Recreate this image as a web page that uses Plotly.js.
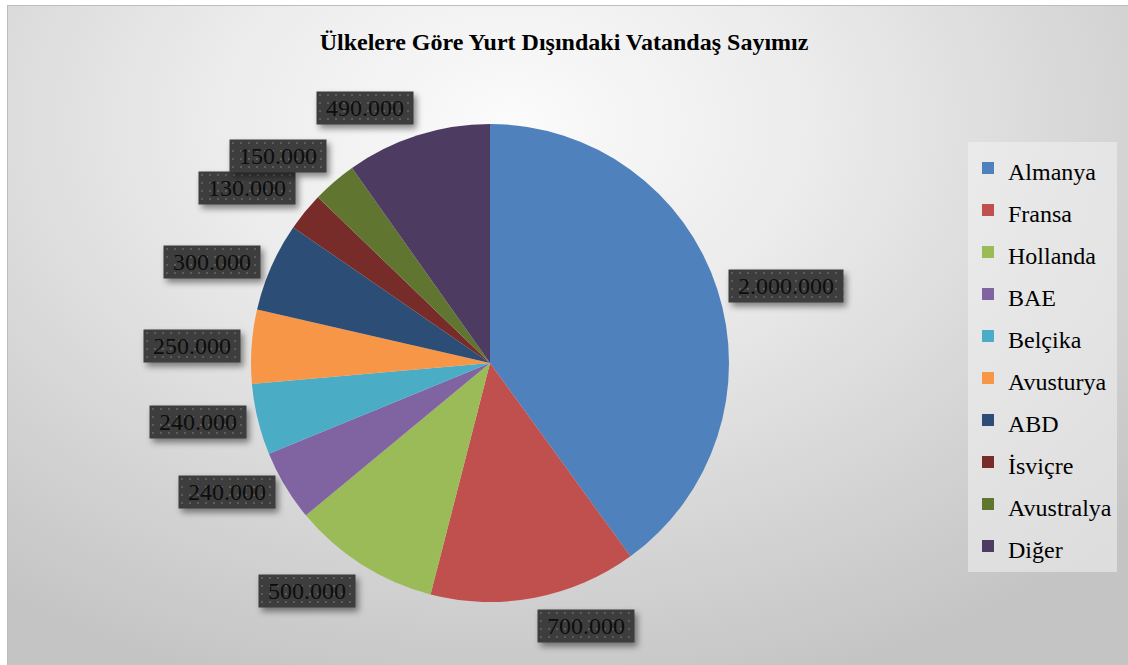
<!DOCTYPE html>
<html>
<head>
<meta charset="utf-8">
<script src="https://cdn.plot.ly/plotly-3.0.1.min.js"></script>
<style>
  html, body { margin: 0; padding: 0; width: 1128px; height: 665px; overflow: hidden; background: #ffffff; }
  #bgpanel {
    position: absolute; left: 7px; top: 5px; width: 1121px; height: 660px;
    background: radial-gradient(ellipse 75% 90% at 45% 18%, #fbfbfb 0%, #ececec 35%, #d6d6d6 70%, #c4c4c4 100%);
    border-top: 1px solid #bdbdbd; border-left: 1px solid #bdbdbd; box-sizing: border-box;
  }
  #chart { position: absolute; left: 0; top: 0; width: 1128px; height: 665px; }
  #chart text, #chart tspan { font-family: 'Liberation Serif', 'Times New Roman', serif !important; }
  .annotation rect.bg { fill: url(#dotpat) !important; filter: drop-shadow(3px 4px 3px rgba(0,0,0,0.45)); }
</style>
</head>
<body>
<div id="bgpanel"></div>
<div id="chart"></div>
<script>
// ---- data ----
const countries = ['Almanya', 'Fransa', 'Hollanda', 'BAE', 'Belçika', 'Avusturya', 'ABD', 'İsviçre', 'Avustralya', 'Diğer'];
const citizens = [2000000, 700000, 500000, 240000, 240000, 250000, 300000, 130000, 150000, 490000];
const sliceColors = ['#4F81BD', '#C0504D', '#9BBB59', '#8064A2', '#4BACC6', '#F79646', '#2C4D75', '#772C2A', '#5F7530', '#4D3B62'];
const chartTitle = 'Ülkelere Göre Yurt Dışındaki Vatandaş Sayımız';

// ---- layout geometry ----
const W = 1128, H = 665;
const PIE_CX = 490, PIE_CY = 363, PIE_R = 239;
const pieDomain = {
  x: [(PIE_CX - PIE_R) / W, (PIE_CX + PIE_R) / W],
  y: [(H - PIE_CY - PIE_R) / H, (H - PIE_CY + PIE_R) / H]
};

function fmt(v) { return String(v).replace(/\B(?=(\d{3})+(?!\d))/g, '.'); }

const serif = 'Liberation Serif';
const LABEL_FS = 24;

// data label annotations positioned from the slice angles
const total = citizens.reduce((a, b) => a + b, 0);
const annotations = [];
let cum = 0;
citizens.forEach((v, i) => {
  const mid = (cum + v / 2) / total * 2 * Math.PI;
  cum += v;
  const s = Math.sin(mid), c = Math.cos(mid);
  const rr = PIE_R + 11;
  const px = PIE_CX + rr * s, py = PIE_CY - rr * c;
  const txt = fmt(v);
  const nDig = txt.replace(/\./g, '').length, nDot = txt.length - nDig;
  annotations.push({
    xref: 'paper', yref: 'paper',
    x: px / W, y: 1 - py / H,
    xanchor: s > 0.1 ? 'left' : (s < -0.1 ? 'right' : 'center'),
    yanchor: c > 0.55 ? 'bottom' : (c < -0.55 ? 'top' : 'middle'),
    text: txt, showarrow: false,
    font: { family: serif, size: LABEL_FS, color: '#0d0d0d' },
    bgcolor: '#404040', borderpad: 3,
    width: Math.round((nDig * 0.5 + nDot * 0.25) * LABEL_FS) + 12
  });
});

const trace = {
  type: 'pie',
  labels: countries.map(l => '<span style="font-size:24px">' + l + '</span>'),
  values: citizens,
  sort: false,
  direction: 'clockwise',
  rotation: 0,
  textinfo: 'none',
  hoverinfo: 'label+value',
  marker: { colors: sliceColors, line: { width: 0 } },
  domain: pieDomain
};

const layout = {
  width: W, height: H,
  margin: { l: 0, r: 0, t: 0, b: 0 },
  paper_bgcolor: 'rgba(0,0,0,0)',
  plot_bgcolor: 'rgba(0,0,0,0)',
  font: { family: serif },
  title: {
    text: '<b>' + chartTitle + '</b>',
    x: 0.5, xanchor: 'center', xref: 'paper',
    y: 1 - 42 / H, yanchor: 'middle', yref: 'paper',
    font: { family: serif, size: 24, color: '#000000' }
  },
  showlegend: true,
  legend: {
    x: 968 / W, xanchor: 'left',
    y: 1 - 142 / H, yanchor: 'top',
    bgcolor: 'rgba(242,242,242,0.55)',
    borderwidth: 0,
    font: { family: serif, size: 30, color: '#000000' },
    traceorder: 'normal'
  },
  annotations: annotations
};

Plotly.newPlot('chart', [trace], layout, { staticPlot: true, displayModeBar: false }).then(gd => {
  const svg = gd.querySelector('svg.main-svg');
  const ns = 'http://www.w3.org/2000/svg';
  let defs = svg.querySelector('defs');
  if (!defs) { defs = document.createElementNS(ns, 'defs'); svg.insertBefore(defs, svg.firstChild); }
  const pat = document.createElementNS(ns, 'pattern');
  pat.setAttribute('id', 'dotpat');
  pat.setAttribute('patternUnits', 'userSpaceOnUse');
  pat.setAttribute('width', '8'); pat.setAttribute('height', '8');
  const base = document.createElementNS(ns, 'rect');
  base.setAttribute('width', '8'); base.setAttribute('height', '8'); base.setAttribute('fill', '#3d3d3d');
  const dot = document.createElementNS(ns, 'rect');
  dot.setAttribute('x', '3'); dot.setAttribute('y', '3');
  dot.setAttribute('width', '2'); dot.setAttribute('height', '2'); dot.setAttribute('fill', '#5c5c5c');
  pat.appendChild(base); pat.appendChild(dot);
  defs.appendChild(pat);
});
</script>
</body>
</html>
